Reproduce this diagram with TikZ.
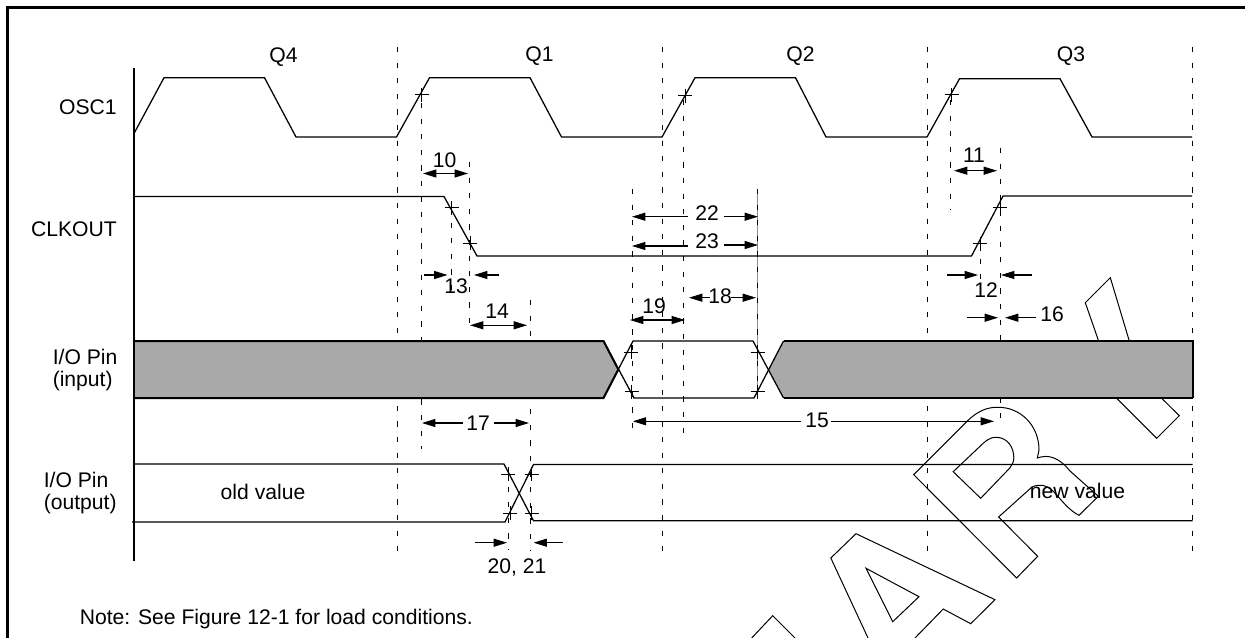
\documentclass[tikz,border=0pt]{standalone}
\usepackage{fontspec}
\setmainfont{Liberation Sans}
\usetikzlibrary{arrows.meta}
\definecolor{bandgray}{HTML}{A9A9A9}
\newcommand{\plusmark}[2]{\draw[tickline] (#1-7,#2) -- (#1+7,#2) (#1,#2-7) -- (#1,#2+7);}
\tikzset{
  wave/.style={line width=0.95pt,line join=miter},
  band/.style={line width=1.5pt,draw=black,fill=bandgray},
  tickline/.style={line width=0.75pt},
  guide/.style={line width=1pt,dash pattern=on 3.9pt off 7.8pt},
  greyguide/.style={line width=0.7pt,draw=black!45},
  water/.style={line width=0.75pt,line join=miter},
  dim/.style={line width=0.8pt},
  dimr/.style={dim,-{Triangle[length=10pt,width=6pt]}},
  diml/.style={dim,{Triangle[length=10pt,width=6pt]}-},
  dimb/.style={dim,{Triangle[length=10pt,width=6pt]}-{Triangle[length=10pt,width=6pt]}},
  lab/.style={inner sep=0pt,font=\fontsize{15.85}{16.5}\selectfont},
  signal/.style={lab,align=left},
}
\begin{document}
\begin{tikzpicture}[x=0.75pt,y=-0.75pt]
\useasboundingbox (0,0) rectangle (1245,638);
% frame
\draw[line width=1.9pt] (7.5,638) -- (7.5,7.5) -- (1245,7.5);
% watermark
\draw[water] (913.7,474.7) -- (968.7,419.7) .. controls (982,407.5) and (992,407.3) .. (998.6,407.3)
  .. controls (1020,407.3) and (1039,425) .. (1039,450) -- (1037.3,458)
  .. controls (1043,456) and (1048,456) .. (1052.4,457.5) .. controls (1060,460) and (1066,466) .. (1070,471)
  -- (1098.3,496.3) -- (1079,515.3) .. controls (1068,510) and (1060,498) .. (1053,491)
  .. controls (1045,484) and (1038,484) .. (1032,487) -- (998.6,517) -- (1037.7,556.3) -- (1016.6,578) -- cycle;
\draw[water] (953.2,471.7) -- (983.5,443) .. controls (990,437.3) and (994,437.3) .. (996,437.3)
  .. controls (1008,437.3) and (1014,448) .. (1013.8,458) .. controls (1013.8,462) and (1012,465) .. (1009.8,468)
  -- (980.7,498.3) -- cycle;
\draw[water] (915,638) -- (943.2,609) -- (970.7,623.7) -- (995,599.7) -- (856,533.7) -- (830.8,558) -- (868,638);
\draw[water] (866,568.3) -- (919,596.7) -- (892.7,621.7) -- cycle;
\draw[water] (751.7,638) -- (772.7,615.7) -- (795,638);
\draw[water] (1110.3,277.7) -- (1085.3,302.7) -- (1100,345) -- (1116.7,398.3) -- (1156.7,438.3) -- (1179.3,415.7) -- (1161.7,398.3) -- (1129.3,341) -- cycle;
% guides
\foreach \xx in {397.5,662.5,927.5,1192.5}{\draw[guide] (\xx,47) -- (\xx,561);}
\draw[guide] (421.5,103) -- (421.5,449);
\draw[guide] (469.5,162) -- (469.5,325);
\draw[guide] (451.5,207) -- (451.5,293);
\draw[guide] (530.5,300) -- (530.5,551);
\draw[guide] (508.5,471) -- (508.5,550);
\draw[guide] (632.5,189) -- (632.5,438);
\draw[guide] (683.5,100) -- (683.5,441);
\draw[greyguide] (757.5,189) -- (757.5,398);
\draw[guide] (757.5,189) -- (757.5,398);
\draw[guide] (950.5,100) -- (950.5,210);
\draw[guide] (1000.5,148) -- (1000.5,426);
\draw[guide] (980.5,243) -- (980.5,290);
% bands
\draw[band] (134,341) -- (603.5,341) -- (618.3,369.5) -- (603.5,398) -- (134,398);
\fill[bandgray] (1192.5,341) -- (783.5,341) -- (768.3,369.5) -- (783.5,398) -- (1192.5,398) -- cycle;
\draw[band,fill=none] (1192.5,398) -- (783.5,398) (783.5,341) -- (1192.5,341) -- (1192.5,398);
\draw[wave] (603.5,341) -- (634,398) -- (754,398) -- (783.5,341);
\draw[wave] (603.5,398) -- (633,341) -- (753,341) -- (783.5,398);
% axis and waves
\draw[wave,line width=0.8pt] (134,67.7) -- (134,561);
\draw[wave] (134,133.5) -- (164,77.7) -- (264.5,77.7) -- (296,137) -- (396.5,137) -- (429.5,77.7) -- (530,77.7) -- (561.5,137) -- (662,137) -- (695,77.7) -- (795.5,77.7) -- (826,137) -- (927,137) -- (959.5,78.7) -- (1060,78.7) -- (1092,137) -- (1192,137);
\draw[wave] (134,196.5) -- (444,196.5) -- (477,256) -- (971.5,256) -- (1003,196) -- (1192,196);
\draw[wave] (134,464) -- (504,464) -- (533.5,520.8) -- (1192.5,520.8);
\draw[wave] (132,522) -- (505,522) -- (533.5,464.5) -- (1192.5,464.5);
% crossing marks
\plusmark{421.5}{95}
\plusmark{451.5}{207.5}
\plusmark{470}{243}
\plusmark{685}{96}
\plusmark{951.5}{95}
\plusmark{1000}{207.5}
\plusmark{980}{243.5}
\plusmark{631}{352}
\plusmark{631.5}{391.5}
\plusmark{757.5}{352}
\plusmark{757.5}{391.5}
\plusmark{508.3}{474.3}
\plusmark{531.7}{474.3}
\plusmark{510}{513.3}
\plusmark{531.7}{513.3}
% dimensions
\draw[dimb] (423,173.5) -- (468,173.5);
\draw[dimr] (424,275) -- (447.5,275);
\draw[diml] (474,275) -- (499,275);
\draw[dimb] (470,325.3) -- (527,325.3);
\draw[diml] (422,423) -- (463,423);
\draw[dimr] (494,423) -- (529,423);
\draw[dimr] (474.5,542.7) -- (507,542.7);
\draw[diml] (533.6,542.7) -- (562.5,542.7);
\draw[diml] (632,216.7) -- (688,216.7);
\draw[dimr] (724.4,216.7) -- (758,216.7);
\draw[diml] (632,246) -- (688,246);
\draw[dimr] (724.4,245) -- (758,245);
\draw[diml] (689,297.7) -- (710,297.7);
\draw[dimr] (730.7,297.7) -- (756,297.7);
\draw[dimb] (630,320) -- (685,320);
\draw[diml] (632.8,421.3) -- (800.5,421.3);
\draw[dimr] (831,421.3) -- (994,421.3);
\draw[dimb] (954,170.7) -- (997,170.7);
\draw[dimr] (947,275) -- (978,275);
\draw[diml] (1001,275) -- (1032,275);
\draw[dimr] (967.3,317.7) -- (998,317.7);
\draw[diml] (1005,317.7) -- (1036,317.7);
% labels
\node[lab] (q4) at (283.5,57) {Q4};
\node[lab] (q1) at (539.5,55.7) {Q1};
\node[lab] (q2) at (800.5,56.5) {Q2};
\node[lab] (q3) at (1071,56.5) {Q3};
\node[lab,anchor=east] (osc) at (117,107) {OSC1};
\node[lab,anchor=east] (clk) at (117,229.7) {CLKOUT};
\node[signal,anchor=west] (pini) at (52.5,370.5) {I/O Pin\\(input)};
\node[signal,anchor=west] (pino) at (43.5,493) {I/O Pin\\(output)};
\node[lab] (oldv) at (263,492) {old value};
\node[lab] (newv) at (1077.5,491) {new value};
\node[lab] (t10) at (444.5,160) {10};
\node[lab] (t13) at (456,286) {13};
\node[lab] (t14) at (497,311) {14};
\node[lab] (t17) at (478,423) {17};
\node[lab] (t2021) at (517,567) {20, 21};
\node[lab] (t22) at (707,212.7) {22};
\node[lab] (t23) at (707,241.7) {23};
\node[lab] (t18) at (720,296.7) {18};
\node[lab] (t19) at (654,306.7) {19};
\node[lab] (t15) at (817,420.7) {15};
\node[lab] (t11) at (974,155) {11};
\node[lab] (t12) at (986,290) {12};
\node[lab] (t16) at (1052,314) {16};
\node[lab,anchor=west] (note) at (79.5,619) {Note: See Figure 12-1 for load conditions.};
\end{tikzpicture}
\end{document}
